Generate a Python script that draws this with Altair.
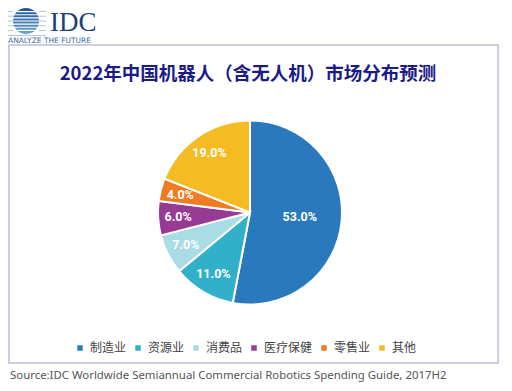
import altair as alt
import pandas as pd

categories = ["制造业", "资源业", "消费品", "医疗保健", "零售业", "其他"]
shares = [53.0, 11.0, 7.0, 6.0, 4.0, 19.0]
colors = ["#2a79bd", "#33b0c9", "#a9dce4", "#963a94", "#ef7b22", "#f5bb22"]
title_text = "2022年中国机器人（含无人机）市场分布预测"
source_text = "Source:IDC Worldwide Semiannual Commercial Robotics Spending Guide, 2017H2"
logo_text = "IDC"
tagline_text = "ANALYZE THE FUTURE"

df = pd.DataFrame({"category": categories, "share": shares, "idx": list(range(len(categories)))})
df["label"] = [f"{v:.1f}%" for v in shares]
one = pd.DataFrame({"k": [0]})

CX, CY, R = 242, 204.5, 92
CJK = "Noto Sans CJK SC"

color = alt.Color(
    "category:N",
    scale=alt.Scale(domain=categories, range=colors),
    legend=alt.Legend(
        orient="none", legendX=66, legendY=334, direction="horizontal", columns=6,
        gridAlign="none",
        title=None, symbolType="square", symbolSize=30, symbolStrokeWidth=0,
        labelFontSize=12, labelFont=CJK, labelColor="#444444",
        columnPadding=5, labelOffset=4, padding=0,
    ),
)

base = alt.Chart(df).encode(
    theta=alt.Theta("share:Q", stack=True),
    order=alt.Order("idx:Q"),
)
arcs = base.mark_arc(x=CX, y=CY, outerRadius=R, stroke="white", strokeWidth=2).encode(color=color)
text_style = dict(x=CX, y=CY, font="Roboto", fontSize=12.5, fontWeight="bold", color="white",
                  align="center", baseline="middle")
labels_big = base.mark_text(radius=50, **text_style).encode(
    text="label:N", opacity=alt.condition("datum.share > 30", alt.value(1), alt.value(0))
)
labels_small = base.mark_text(radius=72, **text_style).encode(
    text="label:N", opacity=alt.condition("datum.share > 30", alt.value(0), alt.value(1))
)

frame = alt.Chart(one).mark_rect(filled=False, stroke="#cdcde0", strokeWidth=2).encode(
    x=alt.value(1), x2=alt.value(490), y=alt.value(37), y2=alt.value(355)
)

title = alt.Chart(one).mark_text(
    text=title_text, fontSize=18.5, fontWeight="bold", font=CJK, color="#1b1b88",
    align="center", baseline="middle",
).encode(x=alt.value(240), y=alt.value(66))

source = alt.Chart(one).mark_text(
    text=source_text, fontSize=11.4, font="Noto Sans", color="#555555",
    align="left", baseline="alphabetic",
).encode(x=alt.value(2), y=alt.value(371))

stripes = "M-1,-0.72H1M-1,-0.48H1M-1,-0.24H1M-1,0H1M-1,0.24H1M-1,0.48H1M-1,0.72H1"
gray_lines = alt.Chart(one).mark_point(
    shape=stripes, size=40 * 40, filled=False, stroke="#b7c2d1", strokeWidth=1, opacity=1
).encode(x=alt.value(18), y=alt.value(13))
globe = alt.Chart(one).mark_point(
    shape="circle", size=26 * 26, filled=True, opacity=1, strokeWidth=0,
    fill=alt.Gradient(gradient="linear", x1=0, x2=0, y1=0, y2=1,
                      stops=[alt.GradientStop(color="#1b4f8e", offset=0),
                             alt.GradientStop(color="#6aa6da", offset=1)]),
).encode(x=alt.value(18), y=alt.value(13))
white_lines = alt.Chart(one).mark_point(
    shape=stripes, size=26 * 26, filled=False, stroke="white", strokeWidth=1.2, opacity=1
).encode(x=alt.value(18), y=alt.value(13))
logo = alt.Chart(one).mark_text(
    text=logo_text, fontSize=27, font="Liberation Serif", color="#1d3f7a",
    align="left", baseline="alphabetic",
).encode(x=alt.value(42), y=alt.value(23))
tagline = alt.Chart(one).mark_text(
    text=tagline_text, fontSize=7.5, font="DejaVu Sans", color="#3b6ea5",
    align="left", baseline="alphabetic",
).encode(x=alt.value(0), y=alt.value(35))

chart = alt.layer(
    frame, gray_lines, globe, white_lines, logo, tagline, title, arcs, labels_big, labels_small, source
).properties(
    width=496, height=375, padding=0, autosize=alt.AutoSizeParams(type="none"),
    background="white",
).configure_view(stroke=None)

chart.save("out.html", embed_options={"renderer": "svg", "actions": False})
